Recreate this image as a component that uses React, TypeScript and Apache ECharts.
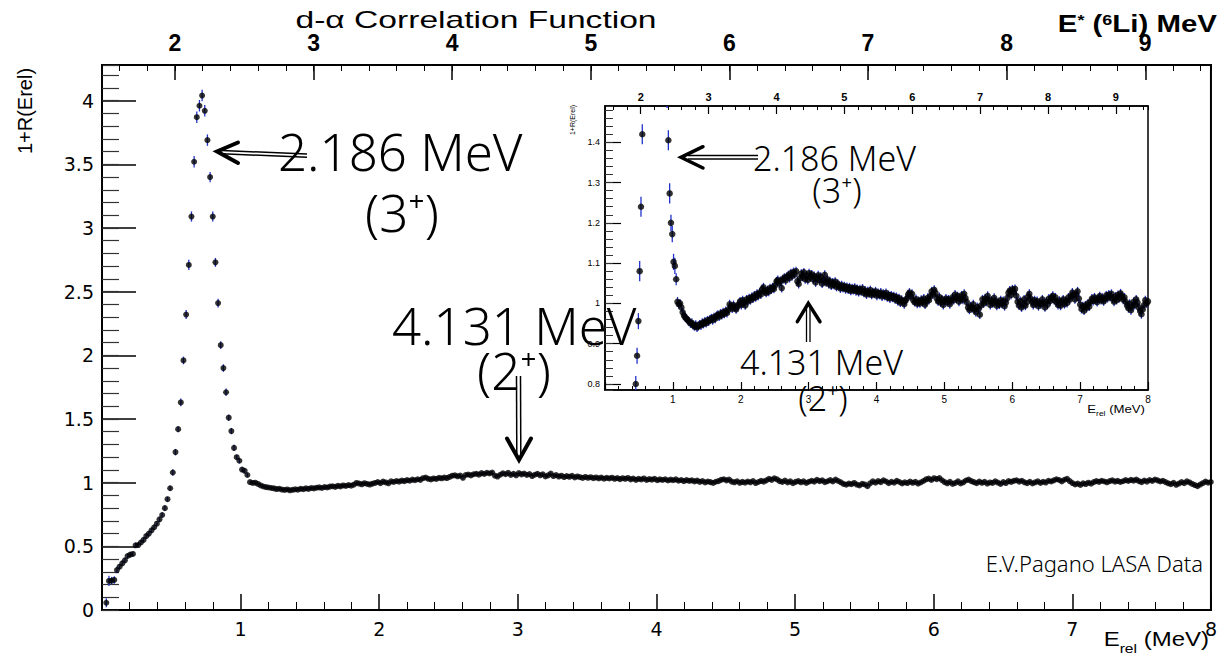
import React, { useEffect, useRef } from "react";
import * as echarts from "echarts";

// ---- histogram binning (E_rel in MeV) ----
const BIN_START = 0.031;
const BIN_WIDTH = 0.0192;
const LI6_THRESHOLD = 1.474; // E*(6Li) = E_rel + 1.474 MeV

// ---- 1+R(Erel) values ----
const risingEdge = [
  0.057, 0.228, 0.23, 0.236, 0.314, 0.34, 0.366, 0.39, 0.424, 0.435,
  0.44, 0.508, 0.51, 0.53, 0.55, 0.58, 0.6, 0.626, 0.65, 0.678,
  0.712, 0.746, 0.8, 0.87, 0.956, 1.08, 1.24, 1.42, 1.63, 1.96,
  2.32, 2.71, 3.09, 3.52, 3.87, 3.96, 4.04,
];
const fallingEdge = [
  3.92, 3.69, 3.4, 3.09, 2.73, 2.41, 2.08, 1.9, 1.71, 1.51,
  1.405, 1.273, 1.2, 1.172, 1.103, 1.093, 1.06, 1.004,
];
const flatA = [
  0.998, 1.0, 0.99, 0.978, 0.97, 0.965, 0.962, 0.958, 0.955, 0.95,
  0.952, 0.946, 0.943, 0.947, 0.94, 0.944, 0.948, 0.945, 0.952, 0.949,
  0.955, 0.951, 0.958, 0.955, 0.96, 0.963, 0.958, 0.966, 0.962, 0.969,
  0.972, 0.967, 0.975, 0.971, 0.978, 0.974, 0.981, 0.976, 0.984, 0.998,
  0.993, 0.987, 0.996, 0.99, 0.985,
];
const flatB = [
  0.992, 0.998, 1.005, 0.996, 1.008, 1.002, 0.995, 1.01, 1.005, 1.013,
  1.008, 1.016, 1.012, 1.02, 1.015, 1.024, 1.019, 1.027, 1.022, 1.035,
  1.04, 1.03, 1.026, 1.033, 1.029, 1.038, 1.034, 1.04, 1.036, 1.045,
  1.055, 1.058, 1.05, 1.056, 1.038, 1.06, 1.064, 1.057, 1.066, 1.07,
  1.063, 1.075, 1.068, 1.078, 1.072, 1.08, 1.055, 1.048, 1.062, 1.074,
];
const flatC = [
  1.066, 1.077, 1.06, 1.07, 1.058, 1.075, 1.065, 1.072, 1.06, 1.068,
  1.052, 1.062, 1.07, 1.058, 1.066, 1.049, 1.057, 1.071, 1.052, 1.06,
  1.048, 1.055, 1.044, 1.052, 1.046, 1.054, 1.041, 1.049, 1.043, 1.037,
  1.045, 1.038, 1.043, 1.035, 1.041, 1.034, 1.04, 1.031, 1.038, 1.033,
  1.039, 1.03, 1.036, 1.028, 1.035, 1.03, 1.037, 1.026, 1.032, 1.022,
];
const flatD = [
  1.03, 1.025, 1.033, 1.021, 1.028, 1.024, 1.03, 1.019, 1.026, 1.021,
  1.027, 1.017, 1.024, 1.019, 1.026, 1.015, 1.021, 1.012, 1.02, 1.014,
  1.018, 1.01, 1.016, 1.006, 1.013, 1.002, 1.009, 1.004, 0.998, 1.007,
  1.012, 1.022, 1.027, 1.018, 1.024, 1.008, 1.003, 1.011, 0.999, 1.006,
  1.0, 1.009, 1.003, 1.012, 0.997, 1.005, 1.014, 1.008, 1.018, 1.03,
];
const flatE = [
  1.022, 1.034, 1.026, 1.012, 1.005, 1.016, 1.002, 1.01, 0.996, 1.006,
  1.012, 1.003, 1.01, 0.998, 1.007, 1.015, 1.008, 1.022, 1.012, 1.018,
  1.004, 1.011, 1.02, 1.009, 1.024, 1.013, 1.003, 0.99, 0.984, 0.993,
  0.988, 0.998, 0.985, 0.978, 0.991, 0.986, 0.972, 0.995, 1.01, 1.0,
  1.012, 1.004, 1.019, 1.009, 0.996, 1.007, 1.0, 1.014, 1.005, 0.994,
];
const flatF = [
  1.003, 0.997, 1.008, 0.999, 1.006, 0.993, 1.002, 1.013, 1.026, 1.032,
  1.021, 1.035, 1.028, 1.036, 1.019, 1.004, 0.995, 1.006, 0.99, 0.998,
  1.01, 0.994, 1.003, 1.017, 1.024, 1.012, 1.004, 0.996, 1.008, 0.999,
  1.006, 0.993, 1.002, 0.998, 1.01, 1.001, 0.99, 1.004, 0.997, 1.012,
  1.006, 1.014, 1.019, 1.008, 1.015, 1.003, 0.996, 1.007, 0.994, 1.003,
];
const flatG = [
  1.01, 0.998, 1.007, 1.001, 1.015, 1.009, 1.018, 1.027, 1.021, 1.01,
  1.023, 1.03, 1.012, 0.997, 0.986, 0.993, 0.982, 0.995, 0.989, 1.0,
  0.992, 1.004, 1.012, 1.006, 1.015, 1.009, 1.003, 1.012, 1.018, 1.008,
  1.014, 1.005, 1.011, 1.02, 1.013, 1.022, 1.016, 1.024, 1.012, 1.004,
  1.017, 1.008, 1.021, 1.013, 1.025, 1.018, 1.009, 1.015, 1.004, 0.995,
];
const flatH = [
  0.988, 0.999, 0.983, 0.993, 1.004, 0.996, 1.01, 1.002, 0.99, 0.981,
  0.973, 0.985, 0.996, 1.008, 1.0, 1.005,
];

// statistical errors: peak region read per bin, constant afterwards
const peakErrors = [
  0.035, 0.04, 0.03, 0.03, 0.025, 0.02, 0.02, 0.02, 0.02, 0.02,
  0.02, 0.02, 0.02, 0.02, 0.02, 0.02, 0.02, 0.02, 0.02, 0.02,
  0.02, 0.02, 0.02, 0.02, 0.02, 0.025, 0.025, 0.025, 0.03, 0.03,
  0.035, 0.04, 0.04, 0.045, 0.045, 0.045, 0.045, 0.045, 0.045, 0.04,
  0.04, 0.035, 0.035, 0.03, 0.03, 0.03, 0.025, 0.025, 0.025, 0.02,
  0.02, 0.02, 0.02, 0.015, 0.012,
];
const FLAT_ERROR = 0.011;

const correlation = [
  ...risingEdge, ...fallingEdge, ...flatA, ...flatB, ...flatC,
  ...flatD, ...flatE, ...flatF, ...flatG, ...flatH,
];

const MAIN_X = [0, 8];
const MAIN_Y = [0, 4.28];
const INSET_Y = [0.785, 1.49];

const BLACK = "#000";
const ERR_BLUE = "#2233cc";
const TICK_FONT = "DejaVu Sans";
const ANN_FONT = "Noto Sans";

function valueAxis(extra: any) {
  return {
    type: "value",
    splitLine: { show: false },
    minorSplitLine: { show: false },
    ...extra,
  };
}

function text(x: number, y: number, t: string, size: number, o: any = {}) {
  const align = o.align || "left";
  return {
    type: "text",
    x,
    y,
    z: 100,
    scaleX: o.scaleX || 1,
    rotation: o.rotation || 0,
    style: {
      text: t,
      fontSize: size,
      fontFamily: o.family || ANN_FONT,
      fontWeight: o.weight || 300,
      fill: BLACK,
      align,
      textAlign: align,
      verticalAlign: "middle",
      textVerticalAlign: "middle",
      rich: o.rich,
    },
  };
}

function seg(x1: number, y1: number, x2: number, y2: number, w: number) {
  return {
    type: "line",
    z: 100,
    shape: { x1, y1, x2, y2 },
    style: { stroke: BLACK, lineWidth: w },
  };
}

function head(points: number[][], w: number) {
  return {
    type: "polyline",
    z: 100,
    shape: { points },
    style: { stroke: BLACK, lineWidth: w, fill: "none", lineCap: "round", lineJoin: "miter" },
  };
}

export default function App() {
  const ref = useRef<HTMLDivElement>(null);

  useEffect(() => {
    if (!ref.current) return;
    const chart = echarts.init(ref.current, null, { renderer: "svg" });

    const points = correlation.map((v, k) => [
      Math.round((BIN_START + k * BIN_WIDTH) * 10000) / 10000,
      v,
      peakErrors[k] !== undefined ? peakErrors[k] : FLAT_ERROR,
    ]);

    const errorBars = (xi: number, yi: number) => ({
      type: "custom",
      xAxisIndex: xi,
      yAxisIndex: yi,
      clip: true,
      z: 1,
      data: points,
      encode: { x: 0, y: 1 },
      renderItem: (_p: any, api: any) => {
        const x = api.value(0);
        const y = api.value(1);
        const e = api.value(2);
        const a = api.coord([x, y - e]);
        const b = api.coord([x, y + e]);
        return {
          type: "line",
          shape: { x1: a[0], y1: a[1], x2: b[0], y2: b[1] },
          style: { stroke: ERR_BLUE, lineWidth: 1.3 },
        };
      },
    });

    const markers = (xi: number, yi: number, size: number) => ({
      type: "scatter",
      xAxisIndex: xi,
      yAxisIndex: yi,
      clip: true,
      z: 3,
      symbol: "circle",
      symbolSize: size,
      itemStyle: { color: BLACK },
      data: points.map((p) => [p[0], p[1]]),
    });

    const option: any = {
      animation: false,
      backgroundColor: "#fff",
      textStyle: { fontFamily: TICK_FONT },
      grid: [
        { left: 102, top: 65, width: 1115, height: 545, show: true, borderColor: BLACK, borderWidth: 2, backgroundColor: "transparent" },
        { left: 605, top: 106, width: 543, height: 284, show: true, borderColor: BLACK, borderWidth: 1.5, backgroundColor: "transparent" },
      ],
      xAxis: [
        valueAxis({
          gridIndex: 0, position: "bottom", min: MAIN_X[0], max: MAIN_X[1], interval: 1,
          axisLine: { show: true, onZero: false, lineStyle: { color: BLACK, width: 2 } },
          axisTick: { show: true, inside: true, length: 16, lineStyle: { color: BLACK, width: 1.5 } },
          minorTick: { show: true, splitNumber: 5, length: 8, lineStyle: { color: BLACK, width: 1 } },
          axisLabel: { show: true, color: BLACK, fontFamily: TICK_FONT, fontSize: 19, margin: 9, showMinLabel: false },
        }),
        valueAxis({
          gridIndex: 0, position: "top", min: MAIN_X[0] + LI6_THRESHOLD, max: MAIN_X[1] + LI6_THRESHOLD, splitNumber: 8,
          axisLine: { show: true, onZero: false, lineStyle: { color: BLACK, width: 2 } },
          axisTick: { show: true, inside: true, length: 15, lineStyle: { color: BLACK, width: 1.5 } },
          axisLabel: { show: true, color: BLACK, fontFamily: "Liberation Sans", fontWeight: "bold", fontSize: 23, margin: 11, showMinLabel: false, showMaxLabel: false },
        }),
        valueAxis({
          gridIndex: 0, position: "top", min: MAIN_X[0] + LI6_THRESHOLD, max: MAIN_X[1] + LI6_THRESHOLD, splitNumber: 40,
          axisLine: { show: false, onZero: false },
          axisTick: { show: true, inside: true, length: 6, lineStyle: { color: BLACK, width: 1 } },
          axisLabel: { show: false },
        }),
        valueAxis({
          gridIndex: 1, position: "bottom", min: MAIN_X[0], max: MAIN_X[1], interval: 1,
          axisLine: { show: true, onZero: false, lineStyle: { color: BLACK, width: 1.5 } },
          axisTick: { show: true, inside: true, length: 8, lineStyle: { color: BLACK, width: 1.2 } },
          minorTick: { show: true, splitNumber: 5, length: 4, lineStyle: { color: BLACK, width: 1 } },
          axisLabel: { show: true, color: BLACK, fontFamily: "Liberation Sans", fontSize: 10, margin: 4, showMinLabel: false },
        }),
        valueAxis({
          gridIndex: 1, position: "top", min: MAIN_X[0] + LI6_THRESHOLD, max: MAIN_X[1] + LI6_THRESHOLD, splitNumber: 8,
          axisLine: { show: true, onZero: false, lineStyle: { color: BLACK, width: 1.5 } },
          axisTick: { show: true, inside: true, length: 8, lineStyle: { color: BLACK, width: 1.2 } },
          axisLabel: { show: true, color: BLACK, fontFamily: "Liberation Sans", fontWeight: "bold", fontSize: 11, margin: 4, showMinLabel: false, showMaxLabel: false },
        }),
        valueAxis({
          gridIndex: 1, position: "top", min: MAIN_X[0] + LI6_THRESHOLD, max: MAIN_X[1] + LI6_THRESHOLD, splitNumber: 40,
          axisLine: { show: false, onZero: false },
          axisTick: { show: true, inside: true, length: 4, lineStyle: { color: BLACK, width: 1 } },
          axisLabel: { show: false },
        }),
      ],
      yAxis: [
        valueAxis({
          gridIndex: 0, position: "left", min: MAIN_Y[0], max: MAIN_Y[1], interval: 0.5,
          axisLine: { show: true, onZero: false, lineStyle: { color: BLACK, width: 2 } },
          axisTick: { show: true, inside: true, length: 34, lineStyle: { color: BLACK, width: 1.5 } },
          axisLabel: { show: true, color: BLACK, fontFamily: TICK_FONT, fontSize: 19, margin: 8, showMaxLabel: false },
        }),
        valueAxis({
          gridIndex: 0, position: "left", min: MAIN_Y[0], max: MAIN_Y[1], interval: 0.1,
          axisLine: { show: false, onZero: false },
          axisTick: { show: true, inside: true, length: 17, lineStyle: { color: "#333", width: 1.2 } },
          axisLabel: { show: false },
        }),
        valueAxis({
          gridIndex: 1, position: "left", min: INSET_Y[0], max: INSET_Y[1], splitNumber: 7,
          axisLine: { show: true, onZero: false, lineStyle: { color: BLACK, width: 1.5 } },
          axisTick: { show: true, inside: true, length: 16, lineStyle: { color: BLACK, width: 1.2 } },
          axisLabel: { show: true, color: BLACK, fontFamily: "Liberation Sans", fontSize: 9, margin: 5, showMinLabel: false, showMaxLabel: false },
        }),
        valueAxis({
          gridIndex: 1, position: "left", min: INSET_Y[0], max: INSET_Y[1], splitNumber: 35,
          axisLine: { show: false, onZero: false },
          axisTick: { show: true, inside: true, length: 8, lineStyle: { color: "#333", width: 1 } },
          axisLabel: { show: false },
        }),
      ],
      series: [errorBars(0, 0), markers(0, 0, 6), errorBars(3, 2), markers(3, 2, 6.5)],
      graphic: [
        // titles and axis titles
        text(476, 20, "d-α Correlation Function", 24, { family: "Liberation Sans", weight: "normal", align: "center", scaleX: 1.4 }),
        text(1217, 24, "E{s|*} ({s|6}Li) MeV", 23, {
          family: "Liberation Sans", weight: "bold", align: "right", scaleX: 1.28,
          rich: { s: { fontSize: 14, fontWeight: "bold", fontFamily: "Liberation Sans", verticalAlign: "top" } },
        }),
        text(25, 111, "1+R(Erel)", 20, { family: "Liberation Sans", weight: "normal", align: "center", rotation: Math.PI / 2 }),
        text(1209, 639, "E{r|rel} (MeV)", 20, {
          family: "Liberation Sans", weight: "normal", align: "right", scaleX: 1.2,
          rich: { r: { fontSize: 13, fontFamily: "Liberation Sans", verticalAlign: "bottom", padding: [0, 0, -6, 0] } },
        }),
        text(1203, 563, "E.V.Pagano LASA Data", 22, { align: "right" }),
        // inset axis titles
        text(572, 120, "1+R(Erel)", 7, { family: "Liberation Sans", weight: "normal", align: "center", rotation: Math.PI / 2 }),
        text(1145, 409, "E{r|rel} (MeV)", 11, {
          family: "Liberation Sans", weight: "normal", align: "right", scaleX: 1.2,
          rich: { r: { fontSize: 7, fontFamily: "Liberation Sans", verticalAlign: "bottom", padding: [0, 0, -3, 0] } },
        }),
        // main annotations
        text(278, 151, "2.186 MeV", 51),
        text(402, 212, "(3⁺)", 51, { align: "center" }),
        text(392, 325, "4.131 MeV", 51),
        text(514, 370, "(2⁺)", 51, { align: "center" }),
        seg(222, 150.5, 307, 154, 1.5),
        seg(222, 153.8, 307, 157.3, 1.5),
        head([[238, 142.5], [217, 151.5], [238, 163]], 4),
        seg(516.5, 376, 516.8, 456, 1.5),
        seg(520.5, 376, 520.8, 456, 1.5),
        head([[507, 438.5], [519, 460], [531, 438.5]], 4),
        // inset annotations
        text(753, 158, "2.186 MeV", 34),
        text(837, 190, "(3⁺)", 34, { align: "center" }),
        text(740, 362, "4.131 MeV", 34),
        text(823, 398, "(2⁺)", 34, { align: "center" }),
        seg(688, 155.5, 758, 155.5, 1.3),
        seg(688, 159, 758, 159, 1.3),
        head([[703, 146.7], [681, 157.3], [703, 168]], 3.5),
        seg(806.5, 308, 806.5, 342, 1.3),
        seg(810, 308, 810, 342, 1.3),
        head([[797.3, 321.7], [808.3, 303.3], [820, 321.7]], 3.5),
      ],
    };

    chart.setOption(option);
    return () => chart.dispose();
  }, []);

  return (
    <div
      ref={ref}
      style={{ position: "absolute", left: 0, top: 0, width: 1220, height: 661, background: "#fff" }}
    />
  );
}
